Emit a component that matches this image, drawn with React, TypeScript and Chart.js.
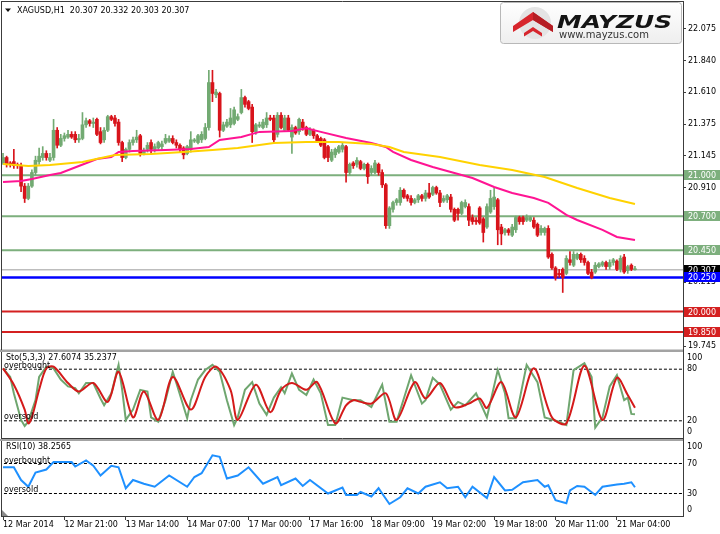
import React, { useEffect, useRef } from "react";
import { Chart, registerables } from "chart.js";

Chart.register(...registerables);

// ---------------- data ----------------
const symbolTitle = "XAGUSD,H1";

const opens = [
  21.09, 21.13, 21.09, 21.10, 21.08, 21.07, 20.92, 20.83, 20.92, 21.02,
  21.10, 21.13, 21.16, 21.11, 21.13, 21.33, 21.22, 21.27, 21.28, 21.30,
  21.30, 21.26, 21.27, 21.37, 21.40, 21.38, 21.41, 21.32, 21.26, 21.33,
  21.43, 21.42, 21.39, 21.24, 21.13, 21.19, 21.24, 21.26, 21.29, 21.16,
  21.19, 21.24, 21.19, 21.20, 21.21, 21.24, 21.25, 21.27, 21.24, 21.22,
  21.20, 21.16, 21.19, 21.25, 21.24, 21.26, 21.27, 21.35, 21.68, 21.59,
  21.60, 21.33, 21.36, 21.37, 21.38, 21.41, 21.46, 21.57, 21.54, 21.50,
  21.32, 21.36, 21.35, 21.37, 21.42, 21.42, 21.30, 21.44, 21.33, 21.42,
  21.28, 21.35, 21.32, 21.39, 21.35, 21.30, 21.33, 21.29, 21.27, 21.26,
  21.21, 21.11, 21.15, 21.17, 21.19, 21.21, 21.02, 21.09, 21.08, 21.10,
  21.05, 21.08, 21.02, 21.02, 21.08, 21.02, 20.93, 20.63, 20.75, 20.80,
  20.80, 20.89, 20.85, 20.83, 20.80, 20.82, 20.85, 20.83, 20.87, 20.86,
  20.91, 20.87, 20.81, 20.82, 20.84, 20.75, 20.75, 20.72, 20.77, 20.77,
  20.69, 20.67, 20.76, 20.68, 20.62, 20.73, 20.77, 20.82, 20.62, 20.58,
  20.60, 20.56, 20.60, 20.69, 20.69, 20.67, 20.67, 20.67, 20.64, 20.58,
  20.58, 20.61, 20.42, 20.32, 20.28, 20.31, 20.28, 20.38, 20.34, 20.39,
  20.42, 20.39, 20.36, 20.29, 20.29, 20.33, 20.34, 20.36, 20.33, 20.36,
  20.37, 20.31, 20.40, 20.30, 20.34, 20.307,
];
const highs = [
  21.16, 21.14, 21.10, 21.19, 21.09, 21.09, 20.94, 20.94, 21.04, 21.14,
  21.20, 21.21, 21.18, 21.16, 21.41, 21.35, 21.30, 21.31, 21.33, 21.32,
  21.32, 21.30, 21.46, 21.42, 21.41, 21.42, 21.42, 21.35, 21.35, 21.44,
  21.44, 21.44, 21.41, 21.25, 21.20, 21.26, 21.28, 21.33, 21.30, 21.20,
  21.24, 21.26, 21.23, 21.25, 21.25, 21.30, 21.29, 21.29, 21.26, 21.23,
  21.21, 21.22, 21.32, 21.27, 21.30, 21.32, 21.38, 21.77, 21.77, 21.63,
  21.61, 21.39, 21.41, 21.49, 21.50, 21.45, 21.63, 21.58, 21.55, 21.52,
  21.38, 21.39, 21.41, 21.46, 21.44, 21.44, 21.46, 21.46, 21.44, 21.44,
  21.37, 21.36, 21.42, 21.41, 21.36, 21.35, 21.34, 21.30, 21.28, 21.27,
  21.22, 21.19, 21.20, 21.22, 21.24, 21.22, 21.09, 21.10, 21.13, 21.11,
  21.09, 21.09, 21.07, 21.11, 21.09, 21.04, 20.94, 20.77, 20.81, 20.83,
  20.91, 20.90, 20.86, 20.85, 20.83, 20.86, 20.86, 20.89, 20.94, 20.92,
  20.92, 20.89, 20.85, 20.86, 20.86, 20.76, 20.76, 20.81, 20.82, 20.79,
  20.71, 20.69, 20.77, 20.69, 20.79, 20.89, 20.91, 20.83, 20.64, 20.61,
  20.61, 20.64, 20.70, 20.70, 20.70, 20.71, 20.70, 20.69, 20.65, 20.63,
  20.62, 20.63, 20.43, 20.33, 20.31, 20.32, 20.41, 20.44, 20.44, 20.43,
  20.43, 20.41, 20.37, 20.31, 20.36, 20.36, 20.37, 20.37, 20.38, 20.39,
  20.38, 20.41, 20.42, 20.34, 20.35, 20.332,
];
const lows = [
  21.08, 21.06, 21.06, 21.05, 21.05, 20.88, 20.80, 20.82, 20.91, 21.00,
  21.08, 21.11, 21.11, 21.10, 21.11, 21.20, 21.21, 21.25, 21.27, 21.27,
  21.24, 21.24, 21.26, 21.35, 21.36, 21.35, 21.29, 21.23, 21.24, 21.32,
  21.40, 21.36, 21.22, 21.10, 21.12, 21.17, 21.22, 21.24, 21.14, 21.15,
  21.17, 21.16, 21.17, 21.19, 21.19, 21.23, 21.24, 21.23, 21.20, 21.17,
  21.12, 21.15, 21.17, 21.24, 21.23, 21.24, 21.26, 21.33, 21.54, 21.57,
  21.28, 21.32, 21.35, 21.35, 21.37, 21.40, 21.45, 21.50, 21.48, 21.24,
  21.30, 21.35, 21.34, 21.35, 21.40, 21.24, 21.28, 21.34, 21.32, 21.32,
  21.16, 21.30, 21.30, 21.33, 21.29, 21.29, 21.27, 21.24, 21.21, 21.12,
  21.10, 21.10, 21.13, 21.16, 21.17, 20.95, 21.00, 21.05, 21.06, 21.04,
  21.04, 20.94, 21.00, 21.01, 21.00, 20.91, 20.61, 20.61, 20.73, 20.78,
  20.78, 20.83, 20.81, 20.78, 20.79, 20.80, 20.81, 20.81, 20.83, 20.85,
  20.86, 20.77, 20.80, 20.80, 20.73, 20.66, 20.67, 20.71, 20.76, 20.63,
  20.64, 20.64, 20.64, 20.51, 20.61, 20.72, 20.75, 20.49, 20.49, 20.56,
  20.56, 20.55, 20.58, 20.64, 20.64, 20.66, 20.66, 20.61, 20.55, 20.56,
  20.56, 20.39, 20.31, 20.23, 20.25, 20.14, 20.27, 20.34, 20.33, 20.38,
  20.36, 20.34, 20.27, 20.24, 20.28, 20.32, 20.33, 20.31, 20.31, 20.34,
  20.30, 20.29, 20.28, 20.28, 20.30, 20.303,
];
const closes = [
  21.13, 21.08, 21.08, 21.07, 21.07, 20.92, 20.83, 20.92, 21.02, 21.11,
  21.14, 21.16, 21.13, 21.13, 21.33, 21.22, 21.27, 21.29, 21.30, 21.28,
  21.26, 21.27, 21.37, 21.40, 21.38, 21.39, 21.30, 21.24, 21.33, 21.43,
  21.41, 21.38, 21.24, 21.13, 21.19, 21.24, 21.26, 21.28, 21.16, 21.18,
  21.22, 21.19, 21.21, 21.24, 21.23, 21.27, 21.27, 21.24, 21.22, 21.19,
  21.15, 21.21, 21.26, 21.26, 21.29, 21.30, 21.35, 21.68, 21.60, 21.61,
  21.33, 21.37, 21.39, 21.42, 21.48, 21.43, 21.57, 21.52, 21.49, 21.32,
  21.37, 21.37, 21.39, 21.42, 21.41, 21.26, 21.44, 21.35, 21.42, 21.33,
  21.35, 21.31, 21.41, 21.35, 21.30, 21.33, 21.29, 21.25, 21.22, 21.13,
  21.13, 21.17, 21.19, 21.21, 21.22, 21.02, 21.08, 21.07, 21.11, 21.05,
  21.08, 20.99, 21.05, 21.09, 21.02, 20.93, 20.63, 20.76, 20.80, 20.82,
  20.89, 20.84, 20.83, 20.80, 20.82, 20.85, 20.83, 20.87, 20.84, 20.91,
  20.87, 20.80, 20.83, 20.85, 20.75, 20.67, 20.72, 20.80, 20.80, 20.67,
  20.66, 20.66, 20.65, 20.58, 20.77, 20.83, 20.84, 20.60, 20.57, 20.60,
  20.58, 20.62, 20.69, 20.66, 20.66, 20.69, 20.69, 20.62, 20.56, 20.61,
  20.61, 20.40, 20.32, 20.25, 20.27, 20.25, 20.39, 20.36, 20.42, 20.42,
  20.38, 20.36, 20.28, 20.25, 20.34, 20.35, 20.36, 20.33, 20.36, 20.38,
  20.31, 20.39, 20.29, 20.33, 20.31, 20.307,
];

// moving averages (bar index, value)
const pinkMaBars = [0, 5, 8, 13, 16, 21, 26, 30, 32, 36, 45, 52, 57, 60, 66, 71, 80, 84, 88, 95, 102, 106, 108, 113, 119, 124, 130, 136, 141, 147, 151, 156, 159, 166, 170, 175];
const pinkMaValues = [20.951, 20.958, 20.973, 21.002, 21.017, 21.068, 21.119, 21.134, 21.171, 21.178, 21.186, 21.193, 21.207, 21.259, 21.281, 21.318, 21.325, 21.345, 21.318, 21.274, 21.237, 21.207, 21.171, 21.112, 21.061, 21.024, 20.98, 20.914, 20.87, 20.833, 20.797, 20.709, 20.672, 20.599, 20.547, 20.525];
const goldMaBars = [0, 7, 13, 22, 31, 41, 50, 58, 65, 75, 84, 93, 102, 107, 111, 121, 132, 141, 150, 159, 168, 175];
const goldMaValues = [21.083, 21.068, 21.075, 21.097, 21.149, 21.156, 21.171, 21.186, 21.2, 21.237, 21.244, 21.244, 21.229, 21.207, 21.171, 21.134, 21.075, 21.039, 20.987, 20.907, 20.833, 20.789];

// horizontal levels
const greenLevels = [21.0, 20.7, 20.45];
const blueLevel = 20.25;
const redLevels = [20.0, 19.85];
const lastPrice = 20.307;

// price axis ticks
const priceTicks = [22.075, 21.84, 21.61, 21.375, 21.145, 20.91, 20.68, 20.45, 20.215, 19.98, 19.745];

// time axis
const xTickBars = [0, 17, 34, 51, 68, 85, 102, 119, 136, 153, 170];
const xTickLabels = ["12 Mar 2014", "12 Mar 21:00", "13 Mar 14:00", "14 Mar 07:00", "17 Mar 00:00", "17 Mar 16:00", "18 Mar 09:00", "19 Mar 02:00", "19 Mar 18:00", "20 Mar 11:00", "21 Mar 04:00"];

// stochastic (5,3,3)
const stochTitle = "Sto(5,3,3) 27.6074 35.2377";
const stochKBars = [0, 2, 3, 5, 6, 7, 9, 10, 12, 14, 16, 18, 20, 21, 23, 25, 27, 28, 30, 32, 33, 34, 36, 38, 40, 41, 43, 45, 47, 48, 51, 52, 54, 56, 58, 60, 62, 64, 65, 67, 69, 71, 73, 75, 77, 78, 80, 82, 84, 86, 88, 90, 92, 94, 97, 99, 102, 105, 107, 109, 111, 113, 116, 117, 119, 121, 124, 126, 128, 131, 134, 137, 139, 140, 142, 145, 148, 150, 154, 156, 158, 161, 163, 164, 166, 168, 170, 172, 173, 174, 175];
const stochKValues = [81, 71, 52, 21, 14, 19, 44, 71, 83, 81, 68, 60, 58, 52, 64, 64, 46, 38, 52, 85, 56, 21, 33, 56, 54, 24, 19, 44, 77, 64, 23, 44, 68, 79, 85, 77, 44, 15, 24, 56, 65, 40, 27, 47, 59, 52, 75, 56, 50, 68, 52, 15, 15, 47, 44, 44, 36, 62, 19, 19, 46, 73, 40, 44, 70, 62, 33, 42, 38, 52, 24, 79, 52, 23, 23, 85, 65, 24, 19, 15, 79, 87, 71, 12, 24, 60, 73, 44, 47, 28, 27.6];
const stochDBars = [0, 3, 6, 7, 8, 10, 12, 14, 18, 21, 25, 29, 32, 36, 39, 43, 47, 52, 56, 59, 63, 65, 70, 74, 77, 80, 84, 87, 92, 95, 97, 99, 102, 106, 109, 114, 117, 121, 125, 129, 132, 134, 138, 142, 147, 152, 156, 161, 166, 170, 173, 175];
const stochDValues = [81, 62, 33, 17, 24, 56, 81, 83, 64, 54, 64, 42, 77, 24, 54, 21, 71, 33, 71, 83, 56, 21, 62, 30, 56, 64, 56, 65, 17, 38, 44, 42, 40, 52, 21, 65, 46, 64, 36, 40, 46, 35, 65, 24, 81, 24, 17, 84, 21, 70, 50, 35.2];
const stochLevels = [80, 20];
const stochAxisTicks = [100, 80, 20, 0];

// RSI(10)
const rsiTitle = "RSI(10) 38.2565";
const rsiBars = [0, 3, 5, 7, 9, 12, 14, 19, 20, 23, 25, 27, 30, 32, 34, 36, 39, 42, 46, 51, 53, 55, 58, 60, 62, 65, 68, 72, 76, 77, 81, 83, 85, 90, 94, 95, 98, 99, 102, 104, 105, 107, 110, 112, 115, 117, 121, 123, 126, 128, 130, 134, 136, 139, 141, 144, 148, 150, 151, 153, 156, 157, 159, 161, 164, 166, 170, 172, 174, 175];
const rsiValues = [65, 65, 48, 39, 58, 62, 72, 72, 66, 74, 67, 54, 67, 65, 37, 48, 43, 39, 54, 39, 52, 57, 81, 79, 50, 54, 65, 43, 52, 41, 50, 40, 48, 30, 38, 28, 28, 32, 26, 37, 30, 16, 25, 37, 30, 39, 45, 37, 39, 25, 39, 24, 52, 34, 35, 45, 48, 39, 41, 21, 17, 34, 40, 39, 28, 39, 42, 43, 45, 38.3];
const rsiLevels = [70, 30];
const rsiAxisTicks = [100, 70, 30, 0];

// ---------------- styling ----------------
const FONT = '"DejaVu Sans", "Liberation Sans", sans-serif';
const X_MIN = -0.28;
const X_MAX = 188.3;
const AXIS_W = 37;
const BULL = "#72AA72";
const BEAR = "#D8141B";
const GREEN_LVL = "#7DAF7D";
const BLUE_LVL = "#0000FF";
const RED_LVL = "#D42020";
const PRICE_LINE = "#BDBDBD";
const FRAME = "#3C3C3C";
const BAND = "#A3A3A3";

const fitY = (s: any) => {
  s.width = AXIS_W;
  s.paddingTop = 0;
  s.paddingBottom = 0;
};
const fitX = (s: any) => {
  s.height = 18;
  s.paddingLeft = 0;
  s.paddingRight = 0;
};

const pts = (bars: number[], vals: number[]) => bars.map((b, i) => ({ x: b, y: vals[i] }));
const hline = (v: number) => [
  { x: X_MIN - 5, y: v },
  { x: X_MAX + 5, y: v },
];
const lineDs = (data: any[], color: string, width: number, order: number, extra: any = {}) => ({
  type: "line",
  data,
  borderColor: color,
  backgroundColor: color,
  borderWidth: width,
  pointRadius: 0,
  pointHoverRadius: 0,
  fill: false,
  tension: 0,
  order,
  clip: 0,
  ...extra,
});

const hiddenX = () => ({ type: "linear", display: false, min: X_MIN, max: X_MAX, offset: false });

const baseOptions = (padding: any) => ({
  responsive: false,
  maintainAspectRatio: false,
  animation: false,
  devicePixelRatio: 1,
  events: [],
  layout: { padding },
  plugins: { legend: { display: false }, tooltip: { enabled: false }, title: { display: false } },
});

function line(ctx: CanvasRenderingContext2D, x1: number, y1: number, x2: number, y2: number) {
  ctx.beginPath();
  ctx.moveTo(x1, y1);
  ctx.lineTo(x2, y2);
  ctx.stroke();
}

function label(ctx: CanvasRenderingContext2D, s: string, x: number, y: number, color = "#000", baseline: CanvasTextBaseline = "middle") {
  ctx.font = `8px ${FONT}`;
  ctx.fillStyle = color;
  ctx.textAlign = "left";
  ctx.textBaseline = baseline;
  ctx.fillText(s, x, y);
}

function drawLogo(ctx: CanvasRenderingContext2D) {
  const x = 500.5, y = 2.5, w = 181, h = 41;
  const g = ctx.createLinearGradient(0, y, 0, y + h);
  g.addColorStop(0, "#ffffff");
  g.addColorStop(1, "#eeeeee");
  ctx.fillStyle = g;
  ctx.beginPath();
  ctx.moveTo(x + 3, y);
  ctx.lineTo(x + w - 3, y);
  ctx.quadraticCurveTo(x + w, y, x + w, y + 3);
  ctx.lineTo(x + w, y + h - 3);
  ctx.quadraticCurveTo(x + w, y + h, x + w - 3, y + h);
  ctx.lineTo(x + 3, y + h);
  ctx.quadraticCurveTo(x, y + h, x, y + h - 3);
  ctx.lineTo(x, y + 3);
  ctx.quadraticCurveTo(x, y, x + 3, y);
  ctx.closePath();
  ctx.fill();
  ctx.strokeStyle = "#B8B8B8";
  ctx.lineWidth = 1;
  ctx.stroke();
  // emblem
  ctx.fillStyle = "#E4E4E4";
  ctx.beginPath();
  ctx.arc(535, 23, 16, 0, Math.PI * 2);
  ctx.fill();
  ctx.fillStyle = "#D7262D";
  ctx.beginPath();
  ctx.moveTo(513, 26);
  ctx.lineTo(533, 12);
  ctx.lineTo(553, 26);
  ctx.lineTo(553, 32);
  ctx.lineTo(533, 20);
  ctx.lineTo(513, 32);
  ctx.closePath();
  ctx.fill();
  ctx.fillStyle = "#B51E24";
  ctx.beginPath();
  ctx.moveTo(533, 12);
  ctx.lineTo(553, 26);
  ctx.lineTo(553, 32);
  ctx.lineTo(533, 20);
  ctx.closePath();
  ctx.fill();
  ctx.fillStyle = "#D7262D";
  ctx.beginPath();
  ctx.moveTo(524, 33);
  ctx.lineTo(533, 27);
  ctx.lineTo(542, 33);
  ctx.lineTo(542, 36.5);
  ctx.lineTo(533, 31);
  ctx.lineTo(524, 36.5);
  ctx.closePath();
  ctx.fill();
  // brand name
  ctx.save();
  ctx.font = `italic bold 17px ${FONT}`;
  const tw = ctx.measureText("MAYZUS").width;
  ctx.translate(557, 27.5);
  ctx.scale(115 / tw, 1);
  ctx.fillStyle = "#141414";
  ctx.textAlign = "left";
  ctx.textBaseline = "alphabetic";
  ctx.fillText("MAYZUS", 0, 0);
  ctx.restore();
  ctx.font = `10px ${FONT}`;
  ctx.fillStyle = "#333";
  ctx.textAlign = "left";
  ctx.textBaseline = "alphabetic";
  ctx.fillText("www.mayzus.com", 559, 37.5);
}

const mainDecor = {
  id: "mainDecor",
  afterDraw(chart: any) {
    const { ctx, chartArea: ar, scales } = chart;
    const y = scales.y;
    ctx.save();
    // separator band under main window
    ctx.fillStyle = BAND;
    ctx.fillRect(0, ar.bottom - 0.5, ar.right + 1, 2.5);
    // frame
    ctx.strokeStyle = FRAME;
    ctx.lineWidth = 1;
    line(ctx, 1.5, 1, 1.5, ar.bottom);
    line(ctx, 1, 1.5, ar.right + 1, 1.5);
    line(ctx, ar.right + 0.5, 1, ar.right + 0.5, chart.height);
    // title
    const n = closes.length - 1;
    ctx.fillStyle = "#111";
    ctx.beginPath();
    ctx.moveTo(5, 8.5);
    ctx.lineTo(11, 8.5);
    ctx.lineTo(8, 12);
    ctx.closePath();
    ctx.fill();
    label(
      ctx,
      `${symbolTitle}  ${opens[n].toFixed(3)} ${highs[n].toFixed(3)} ${lows[n].toFixed(3)} ${closes[n].toFixed(3)}`,
      17,
      10.5
    );
    drawLogo(ctx);
    // price boxes on the axis
    const boxes: { v: number; bg: string }[] = [];
    greenLevels.forEach((v) => boxes.push({ v, bg: GREEN_LVL }));
    boxes.push({ v: lastPrice, bg: "#000" });
    boxes.push({ v: blueLevel, bg: BLUE_LVL });
    redLevels.forEach((v) => boxes.push({ v, bg: RED_LVL }));
    boxes.forEach(({ v, bg }) => {
      const py = Math.round(y.getPixelForValue(v));
      ctx.fillStyle = bg;
      ctx.fillRect(ar.right + 1, py - 5, chart.width - ar.right - 1, 10);
      label(ctx, v.toFixed(3), ar.right + 5, py + 0.5, "#fff");
    });
    ctx.restore();
  },
};

function panelDecor(id: string, title: string, levels: number[], axisTicks: number[], band: boolean) {
  return {
    id,
    afterDraw(chart: any) {
      const { ctx, chartArea: ar, scales } = chart;
      const y = scales.y;
      ctx.save();
      ctx.strokeStyle = FRAME;
      ctx.lineWidth = 1;
      line(ctx, 1.5, 0, 1.5, ar.bottom + 1);
      line(ctx, ar.right + 0.5, 0, ar.right + 0.5, ar.bottom + 1);
      if (band) {
        line(ctx, 1, ar.bottom + 0.5, ar.right + 1, ar.bottom + 0.5);
        ctx.fillStyle = BAND;
        ctx.fillRect(0, ar.bottom + 1, ar.right + 1, 2);
        ctx.strokeStyle = FRAME;
        line(ctx, ar.right + 0.5, ar.bottom, ar.right + 0.5, chart.height);
      } else {
        ctx.fillStyle = "#8A8A8A";
        ctx.beginPath();
        ctx.moveTo(2, ar.bottom - 6);
        ctx.lineTo(2, ar.bottom);
        ctx.lineTo(8, ar.bottom);
        ctx.closePath();
        ctx.fill();
      }
      // captions
      label(ctx, title, 6, ar.top + 6);
      label(ctx, "overbought", 4, y.getPixelForValue(levels[0]) - 1, "#000", "alphabetic");
      label(ctx, "oversold", 4, y.getPixelForValue(levels[1]) - 2, "#000", "alphabetic");
      // right scale labels
      const top = y.getPixelForValue(axisTicks[0]);
      const bot = y.getPixelForValue(axisTicks[axisTicks.length - 1]);
      axisTicks.forEach((v, i) => {
        let py = y.getPixelForValue(v);
        if (i === 0) py = top + 5.5;
        if (i === axisTicks.length - 1) py = bot - 6;
        label(ctx, String(v), ar.right + 4, py);
      });
      ctx.restore();
    },
  };
}

function buildMain() {
  const candleColors = closes.map((c, i) => (c >= opens[i] ? BULL : BEAR));
  const datasets: any[] = [];
  greenLevels.forEach((v) => datasets.push(lineDs(hline(v), GREEN_LVL, 2, 3)));
  datasets.push(lineDs(hline(lastPrice), PRICE_LINE, 1.5, 3));
  datasets.push(lineDs(hline(blueLevel), BLUE_LVL, 2.5, 3));
  redLevels.forEach((v) => datasets.push(lineDs(hline(v), RED_LVL, 2, 3)));
  datasets.push({
    type: "bar",
    data: closes.map((_, i) => ({ x: i, y: [lows[i], highs[i]] })),
    backgroundColor: candleColors,
    borderWidth: 0,
    barThickness: 1,
    maxBarThickness: 1,
    grouped: false,
    order: 2,
  });
  datasets.push({
    type: "bar",
    data: closes.map((c, i) => ({ x: i, y: [opens[i], c] })),
    backgroundColor: candleColors,
    borderWidth: 0,
    barThickness: 3,
    maxBarThickness: 3,
    minBarLength: 1,
    grouped: false,
    order: 1,
  });
  datasets.push(lineDs(pts(goldMaBars, goldMaValues), "#FFD200", 2, 0));
  datasets.push(lineDs(pts(pinkMaBars, pinkMaValues), "#FF1493", 2, 0));

  return {
    type: "line",
    data: { datasets },
    options: {
      ...baseOptions({ left: 2, right: 0, top: 2, bottom: 2 }),
      scales: {
        x: hiddenX(),
        y: {
          type: "linear",
          position: "right",
          min: 19.718,
          max: 22.271,
          afterFit: fitY,
          afterBuildTicks: (s: any) => {
            s.ticks = priceTicks.map((v) => ({ value: v }));
          },
          ticks: {
            autoSkip: false,
            padding: 2,
            color: "#000",
            font: { family: FONT, size: 8 },
            callback: (v: any) => Number(v).toFixed(3),
          },
          grid: { display: true, drawOnChartArea: false, drawTicks: true, tickLength: 3, color: FRAME },
          border: { display: true, color: FRAME },
        },
      },
    },
    plugins: [mainDecor],
  };
}

function buildStoch() {
  const datasets: any[] = [
    lineDs(hline(stochLevels[0]), "#000", 1, 3, { borderDash: [3, 2] }),
    lineDs(hline(stochLevels[1]), "#000", 1, 3, { borderDash: [3, 2] }),
    lineDs(pts(stochKBars, stochKValues), "#6FA66F", 2, 1),
    lineDs(pts(stochDBars, stochDValues), "#D41A1A", 2, 0, { tension: 0.3 }),
  ];
  return {
    type: "line",
    data: { datasets },
    options: {
      ...baseOptions({ left: 2, right: 0, top: 0, bottom: 3 }),
      scales: {
        x: hiddenX(),
        y: {
          type: "linear",
          position: "right",
          min: 0,
          max: 100,
          afterFit: fitY,
          ticks: { display: false },
          grid: { display: false },
          border: { display: false },
        },
      },
    },
    plugins: [panelDecor("stochDecor", stochTitle, stochLevels, stochAxisTicks, true)],
  };
}

function buildRsi() {
  const datasets: any[] = [
    lineDs(hline(rsiLevels[0]), "#000", 1, 3, { borderDash: [3, 2] }),
    lineDs(hline(rsiLevels[1]), "#000", 1, 3, { borderDash: [3, 2] }),
    lineDs(pts(rsiBars, rsiValues), "#1E90FF", 2, 0),
  ];
  return {
    type: "line",
    data: { datasets },
    options: {
      ...baseOptions({ left: 2, right: 0, top: 0, bottom: 0 }),
      scales: {
        x: {
          type: "linear",
          position: "bottom",
          min: X_MIN,
          max: X_MAX,
          offset: false,
          afterFit: fitX,
          afterBuildTicks: (s: any) => {
            s.ticks = xTickBars.map((v) => ({ value: v }));
          },
          ticks: {
            autoSkip: false,
            maxRotation: 0,
            minRotation: 0,
            align: "start",
            padding: 0,
            color: "#000",
            font: { family: FONT, size: 8 },
            callback: (_v: any, i: number) => xTickLabels[i],
          },
          grid: { display: true, drawOnChartArea: false, drawTicks: true, tickLength: 4, color: FRAME },
          border: { display: true, color: FRAME },
        },
        y: {
          type: "linear",
          position: "right",
          min: 0,
          max: 100,
          afterFit: fitY,
          ticks: { display: false },
          grid: { display: false },
          border: { display: false },
        },
      },
    },
    plugins: [panelDecor("rsiDecor", rsiTitle, rsiLevels, rsiAxisTicks, false)],
  };
}

export default function App() {
  const mainRef = useRef<HTMLCanvasElement | null>(null);
  const stochRef = useRef<HTMLCanvasElement | null>(null);
  const rsiRef = useRef<HTMLCanvasElement | null>(null);

  useEffect(() => {
    if (!mainRef.current || !stochRef.current || !rsiRef.current) return;
    const charts = [
      new Chart(mainRef.current, buildMain() as any),
      new Chart(stochRef.current, buildStoch() as any),
      new Chart(rsiRef.current, buildRsi() as any),
    ];
    return () => charts.forEach((c) => c.destroy());
  }, []);

  const abs = (top: number, height: number): React.CSSProperties => ({
    position: "absolute",
    left: 0,
    top,
    width: 720,
    height,
    display: "block",
  });

  return (
    <div style={{ position: "absolute", left: 0, top: 0, width: 720, height: 534, background: "#fff", overflow: "hidden" }}>
      <canvas ref={mainRef} width={720} height={352} style={abs(0, 352)} />
      <canvas ref={stochRef} width={720} height={89} style={abs(352, 89)} />
      <canvas ref={rsiRef} width={720} height={93} style={abs(441, 93)} />
    </div>
  );
}
